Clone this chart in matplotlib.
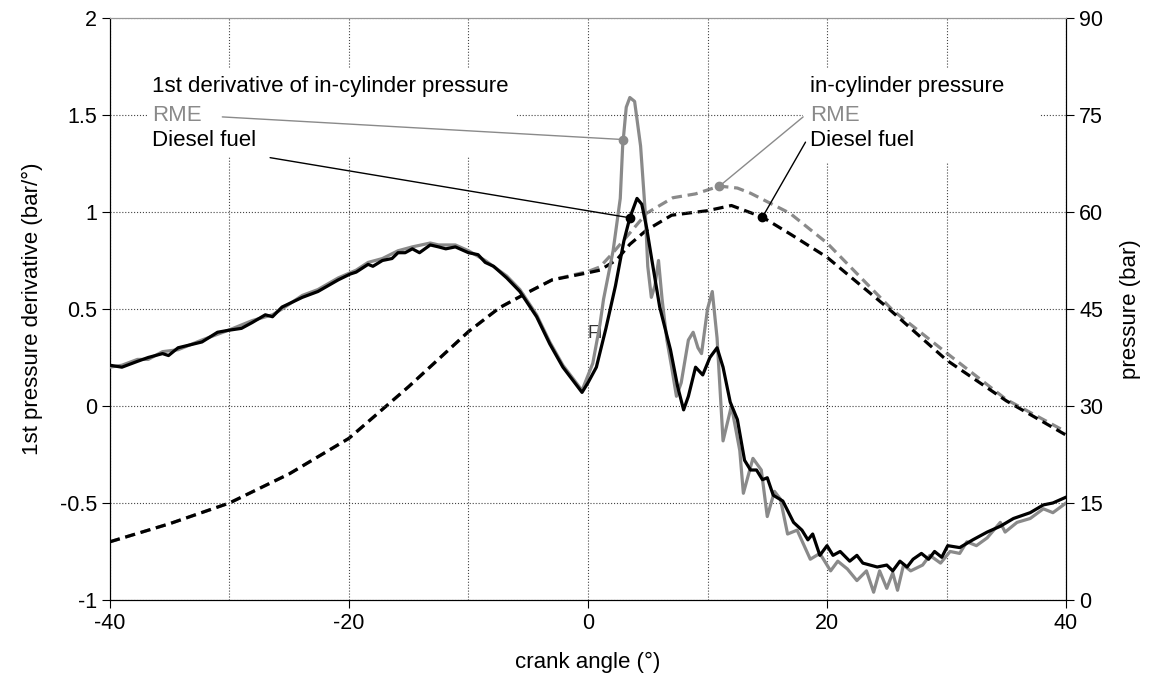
import numpy as np
import matplotlib
matplotlib.use('Agg')
import matplotlib.pyplot as plt
from matplotlib.patches import Rectangle

plt.rcParams['font.family'] = ['Liberation Sans', 'DejaVu Sans']
plt.rcParams['font.size'] = 16
plt.rcParams['axes.unicode_minus'] = False

# 1st derivative of in-cylinder pressure, Diesel fuel (bar/deg)
diesel_der_x = [-40, -39, -37.7, -36.8, -35.6, -35.1, -34.3, -32.3, -31, -30.1,
                -29, -28.1, -27, -26.4, -25.6, -23.9, -22.6, -20.9, -19.9, -19.4,
                -18.4, -18, -17.2, -16.4, -15.9, -15.3, -14.7, -14.1, -13.2, -12.5,
                -11.9, -11.1, -10, -9.2, -8.6, -7.9, -6.8, -5.7, -4.3, -3.2,
                -2.1, -0.5, 0, 0.7, 1.5, 2.3, 3.0, 3.5, 4.1, 4.5,
                4.9, 5.35, 6.0, 6.9, 7.5, 8.0, 8.4, 9.0, 9.6, 10.2,
                10.8, 11.3, 11.9, 12.5, 13.1, 13.6, 14.1, 14.6, 15.0, 15.5,
                16.3, 17.2, 17.9, 18.4, 18.8, 19.4, 20, 20.5, 21.1, 21.9,
                22.5, 23, 24.2, 25, 25.5, 26.1, 26.7, 27.2, 27.9, 28.5,
                29, 29.6, 30.1, 31.1, 32.2, 33.4, 34.5, 35.6, 37, 38.1,
                38.9, 40]
diesel_der_y = [0.21, 0.20, 0.23, 0.25, 0.27, 0.26, 0.30, 0.33, 0.38, 0.39,
                0.40, 0.43, 0.47, 0.46, 0.51, 0.56, 0.59, 0.65, 0.68, 0.69,
                0.73, 0.72, 0.75, 0.76, 0.79, 0.79, 0.81, 0.79, 0.83, 0.82,
                0.81, 0.82, 0.79, 0.78, 0.74, 0.72, 0.66, 0.59, 0.46, 0.32,
                0.20, 0.07, 0.12, 0.20, 0.40, 0.62, 0.85, 0.97, 1.07, 1.04,
                0.92, 0.75, 0.51, 0.29, 0.10, -0.02, 0.05, 0.20, 0.16, 0.25,
                0.30, 0.20, 0.02, -0.07, -0.28, -0.33, -0.33, -0.38, -0.37, -0.46,
                -0.49, -0.60, -0.64, -0.69, -0.66, -0.77, -0.72, -0.77, -0.75, -0.80,
                -0.77, -0.81, -0.83, -0.82, -0.85, -0.80, -0.83, -0.79, -0.76, -0.79,
                -0.75, -0.78, -0.72, -0.73, -0.69, -0.65, -0.62, -0.58, -0.55, -0.51,
                -0.50, -0.47]

# 1st derivative of in-cylinder pressure, RME
rme_der_x = [-40, -39, -37.7, -36.8, -35.6, -34.3, -32.3, -30.1, -28.1, -26.4,
             -25.6, -23.9, -22.6, -20.9, -19.4, -18.4, -17.2, -15.9, -14.7, -13.2,
             -12.5, -11.1, -10, -8.6, -6.8, -5.7, -4.3, -3.2, -2.1, -0.5,
             0.4, 1.0, 1.3, 2.1, 2.7, 2.9, 3.2, 3.5, 3.9, 4.4,
             4.8, 5.0, 5.3, 5.6, 5.9, 6.2, 6.6, 7.0, 7.4, 7.8,
             8.4, 8.8, 9.2, 9.5, 10.0, 10.4, 10.8, 11.3, 12.0, 12.7,
             13.0, 13.8, 14.5, 15.0, 15.6, 16.1, 16.7, 17.5, 18.6, 19.4,
             20.3, 20.9, 21.7, 22.5, 23.3, 23.9, 24.4, 25, 25.5, 25.9,
             26.4, 27, 28, 28.6, 29.5, 30.3, 31.1, 31.7, 32.5, 33.4,
             34.5, 34.9, 35.9, 37, 38.1, 38.9, 40]
rme_der_y = [0.20, 0.21, 0.24, 0.24, 0.28, 0.29, 0.34, 0.39, 0.44, 0.47,
             0.50, 0.57, 0.60, 0.66, 0.70, 0.74, 0.76, 0.80, 0.82, 0.84,
             0.83, 0.83, 0.80, 0.75, 0.67, 0.60, 0.47, 0.33, 0.21, 0.08,
             0.22, 0.42, 0.55, 0.80, 1.07, 1.34, 1.54, 1.59, 1.57, 1.34,
             0.99, 0.72, 0.56, 0.62, 0.75, 0.55, 0.34, 0.20, 0.05, 0.12,
             0.34, 0.38, 0.30, 0.27, 0.50, 0.59, 0.35, -0.18, 0.00, -0.23,
             -0.45, -0.27, -0.33, -0.57, -0.44, -0.48, -0.66, -0.64, -0.79, -0.76,
             -0.85, -0.80, -0.84, -0.90, -0.85, -0.96, -0.85, -0.94, -0.86, -0.95,
             -0.82, -0.85, -0.82, -0.77, -0.81, -0.75, -0.76, -0.70, -0.72, -0.68,
             -0.60, -0.65, -0.60, -0.58, -0.53, -0.55, -0.50]

# in-cylinder pressure (bar)
diesel_p_x = [-40, -35, -30, -25, -20, -15, -10, -7.4, -5, -3, 0, 1, 2.4, 3.5,
              4.9, 7, 10, 12, 14.6, 17, 20, 25, 30, 35, 40]
diesel_p_y = [9, 11.8, 15, 19.5, 25, 33, 41.5, 45.2, 47.6, 49.5, 50.6, 51, 52.6, 55,
              57.2, 59.5, 60.2, 61, 59.2, 56.5, 53, 45.3, 37.1, 30.8, 25.5]
rme_p_x = [-40, -35, -30, -25, -20, -15, -10, -7.4, -5, -3, 0, 1, 2, 3.2,
           4.9, 7.1, 9, 11, 12.5, 13.6, 16.9, 20, 25.5, 30, 35, 40]
rme_p_y = [9, 11.8, 15, 19.5, 25, 33, 41.5, 45.2, 47.6, 49.5, 50.8, 51.5, 53.5, 56.1,
           59.8, 62.2, 62.8, 64, 63.7, 62.9, 59.8, 55.2, 44.8, 38.2, 31, 26]

GRAY = '#8a8a8a'
DASH = (0, (3.2, 1.8))

fig = plt.figure(figsize=(11.49, 6.86), dpi=100)
ax = fig.add_axes([0.0957, 0.1254, 0.8321, 0.8484])
ax2 = ax.twinx()

# pressure curves (right axis)
ax2.plot(rme_p_x, rme_p_y, color=GRAY, lw=2.3, ls=DASH)
ax2.plot(diesel_p_x, diesel_p_y, color='black', lw=2.3, ls=DASH)
ax2.set_ylim(0, 90)
ax2.set_yticks(np.arange(0, 91, 15))
ax2.set_ylabel('pressure (bar)', fontsize=16, labelpad=12)

# derivative curves (left axis), drawn on top
ax.set_zorder(ax2.get_zorder() + 1)
ax.patch.set_visible(False)
ax.set_axisbelow(True)
ax.plot(rme_der_x, rme_der_y, color=GRAY, lw=2.3, zorder=3)
ax.plot(diesel_der_x, diesel_der_y, color='black', lw=2.3, zorder=3)

ax.set_xlim(-40, 40)
ax.set_ylim(-1, 2)
ax.set_xticks([-40, -20, 0, 20, 40])
ax.set_xticks(np.arange(-40, 41, 10), minor=True)
ax.set_yticks(np.arange(-1, 2.01, 0.5))
ax.set_yticklabels(['-1', '-0.5', '0', '0.5', '1', '1.5', '2'])
ax.tick_params(which='minor', length=0)
ax.tick_params(which='major', direction='out', length=6, labelsize=15.5)
ax2.tick_params(direction='out', length=6, labelsize=15.5)
ax.grid(True, which='both', ls=':', lw=0.8, color='#444444')
ax.set_xlabel('crank angle (°)', fontsize=16, labelpad=13)
ax.set_ylabel('1st pressure derivative (bar/°)', fontsize=16, labelpad=12)
for a in (ax, ax2):
    a.spines['top'].set_color('#999999')
    a.spines['top'].set_linewidth(0.8)

ax.text(0.6, 0.376, 'Fi', fontsize=13, color='#333333', ha='center', va='center', zorder=1)

# white boxes behind the annotation text (hide the grid there)
ax.add_patch(Rectangle((-36.9, 1.29), 31.0, 0.452, facecolor='white', edgecolor='none', zorder=1))
ax.add_patch(Rectangle((18.0, 1.25), 19.8, 0.492, facecolor='white', edgecolor='none', zorder=1))

# annotations for derivative curves
rme_mx = 2.95
dsl_mx = 3.5
ax.text(-36.5, 1.645, '1st derivative of in-cylinder pressure', va='center', zorder=2)
ax.text(-36.5, 1.495, 'RME', va='center', color=GRAY, zorder=2)
ax.text(-36.5, 1.37, 'Diesel fuel', va='center', zorder=2)
ax.annotate('', xy=(rme_mx, np.interp(rme_mx, rme_der_x, rme_der_y)), xytext=(-30.6, 1.49),
            arrowprops=dict(arrowstyle='-', color=GRAY, lw=1, shrinkA=0, shrinkB=0), zorder=4)
ax.plot(rme_mx, np.interp(rme_mx, rme_der_x, rme_der_y), 'o', color=GRAY, ms=6, zorder=4)
ax.annotate('', xy=(dsl_mx, np.interp(dsl_mx, diesel_der_x, diesel_der_y)), xytext=(-26.6, 1.28),
            arrowprops=dict(arrowstyle='-', color='black', lw=1, shrinkA=0, shrinkB=0), zorder=4)
ax.plot(dsl_mx, np.interp(dsl_mx, diesel_der_x, diesel_der_y), 'o', color='black', ms=6, zorder=4)

# annotations for pressure curves (pressure mapped onto the left axis: p/30 - 1)
rme_px = 11.0
dsl_px = 14.6
ax.text(18.6, 1.645, 'in-cylinder pressure', va='center', zorder=2)
ax.text(18.6, 1.495, 'RME', va='center', color=GRAY, zorder=2)
ax.text(18.6, 1.37, 'Diesel fuel', va='center', zorder=2)
ax.annotate('', xy=(rme_px, np.interp(rme_px, rme_p_x, rme_p_y) / 30 - 1), xytext=(18.0, 1.49),
            arrowprops=dict(arrowstyle='-', color=GRAY, lw=1, shrinkA=0, shrinkB=0), zorder=4)
ax.plot(rme_px, np.interp(rme_px, rme_p_x, rme_p_y) / 30 - 1, 'o', color=GRAY, ms=6, zorder=4)
ax.annotate('', xy=(dsl_px, np.interp(dsl_px, diesel_p_x, diesel_p_y) / 30 - 1), xytext=(18.2, 1.36),
            arrowprops=dict(arrowstyle='-', color='black', lw=1, shrinkA=0, shrinkB=0), zorder=4)
ax.plot(dsl_px, np.interp(dsl_px, diesel_p_x, diesel_p_y) / 30 - 1, 'o', color='black', ms=6, zorder=4)

plt.savefig('out.png', dpi=100)
